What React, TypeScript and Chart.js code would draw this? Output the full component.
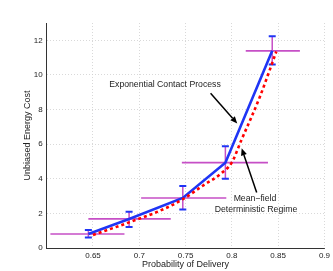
import React, { useEffect, useRef } from "react";
import { Chart, registerables } from "chart.js";

Chart.register(...registerables);

// Measured points (Exponential Contact Process)
const pointX = [0.645, 0.689, 0.747, 0.793, 0.8436];
const pointY = [0.81, 1.68, 2.89, 4.93, 11.39];
// vertical error bars
const errYLow = [0.6, 1.22, 2.23, 4.0, 10.6];
const errYHigh = [1.04, 2.1, 3.58, 5.88, 12.23];
// horizontal error bars
const errXLow = [0.604, 0.645, 0.702, 0.746, 0.815];
const errXHigh = [0.684, 0.734, 0.794, 0.839, 0.8735];

// Mean-field deterministic regime curve
const meanX = [0.65, 0.69, 0.72, 0.745, 0.77, 0.787, 0.8, 0.81, 0.83, 0.848];
const meanY = [0.75, 1.5, 2.1, 2.75, 3.65, 4.25, 4.95, 6.2, 8.7, 11.35];

const xTickLabels = ["", "0.65", "0.7", "0.75", "0.8", "0.85", "0.9"];
const yTickLabels = ["0", "2", "4", "6", "8", "10", "12"];

// annotations (data coordinates)
const annTexts = ["Exponential Contact Process", "Mean\u2212field", "Deterministic Regime"];
const annTextX = [0.7278, 0.825, 0.826];
const annTextY = [9.42, 2.83, 2.2];
const arrowFromX = [0.777, 0.8268];
const arrowFromY = [8.94, 3.2];
const arrowToX = [0.8058, 0.8106];
const arrowToY = [7.2, 5.76];

const FONT = '"Liberation Sans", Arial, Helvetica, sans-serif';

const annotationPlugin = {
  id: "annotations",
  afterDatasetsDraw(chart: any) {
    const ctx = chart.ctx;
    const xs = chart.scales.x;
    const ys = chart.scales.y;
    ctx.save();
    ctx.font = `8.7px ${FONT}`;
    ctx.fillStyle = "#222";
    ctx.textAlign = "center";
    ctx.textBaseline = "middle";
    annTexts.forEach((t, i) => {
      ctx.fillText(t, xs.getPixelForValue(annTextX[i]), ys.getPixelForValue(annTextY[i]));
    });
    ctx.strokeStyle = "#000";
    ctx.fillStyle = "#000";
    ctx.lineWidth = 1.5;
    for (let i = 0; i < arrowFromX.length; i++) {
      const x1 = xs.getPixelForValue(arrowFromX[i]);
      const y1 = ys.getPixelForValue(arrowFromY[i]);
      const x2 = xs.getPixelForValue(arrowToX[i]);
      const y2 = ys.getPixelForValue(arrowToY[i]);
      const ang = Math.atan2(y2 - y1, x2 - x1);
      const hl = 7;
      const hw = 3;
      const bx = x2 - hl * Math.cos(ang);
      const by = y2 - hl * Math.sin(ang);
      ctx.beginPath();
      ctx.moveTo(x1, y1);
      ctx.lineTo(bx, by);
      ctx.stroke();
      ctx.beginPath();
      ctx.moveTo(x2, y2);
      ctx.lineTo(bx + hw * Math.sin(ang), by - hw * Math.cos(ang));
      ctx.lineTo(bx - hw * Math.sin(ang), by + hw * Math.cos(ang));
      ctx.closePath();
      ctx.fill();
    }
    ctx.restore();
  },
};

export default function App() {
  const ref = useRef<HTMLCanvasElement | null>(null);
  useEffect(() => {
    document.body.style.margin = "0";
    const BLUE = "#1f35f5";
    const MAG = "#c64fc6";
    const datasets: any[] = [];
    datasets.push({
      data: pointX.map((x, i) => ({ x, y: pointY[i] })),
      showLine: true,
      borderColor: BLUE,
      borderWidth: 2.6,
      pointRadius: 0,
      order: 1,
    });
    datasets.push({
      data: meanX.map((x, i) => ({ x, y: meanY[i] })),
      showLine: true,
      borderColor: "#ff0000",
      borderWidth: 2.6,
      borderDash: [3, 3],
      cubicInterpolationMode: "monotone",
      pointRadius: 0,
      order: 0,
    });
    pointX.forEach((x, i) => {
      datasets.push({
        data: [
          { x: errXLow[i], y: pointY[i] },
          { x: errXHigh[i], y: pointY[i] },
        ],
        showLine: true,
        borderColor: MAG,
        borderWidth: 1.6,
        pointRadius: 0,
        order: 3,
      });
      datasets.push({
        data: [
          { x, y: errYLow[i] },
          { x, y: errYHigh[i] },
        ],
        showLine: true,
        borderColor: MAG,
        borderWidth: 1.5,
        pointStyle: "line",
        pointRadius: 3.5,
        pointBorderColor: BLUE,
        pointBorderWidth: 2,
        order: 2,
      });
    });
    const chart = new Chart(ref.current!, {
      type: "scatter",
      data: { datasets },
      plugins: [annotationPlugin],
      options: {
        animation: false,
        responsive: false,
        events: [],
        layout: { padding: { left: 0, right: 8, top: 23, bottom: 0 } },
        plugins: { legend: { display: false }, tooltip: { enabled: false } },
        scales: {
          x: {
            type: "linear",
            min: 0.6,
            max: 0.9,
            afterFit: (s: any) => {
              s.height = 23;
            },
            ticks: {
              stepSize: 0.05,
              padding: 3,
              color: "#222",
              font: { family: FONT, size: 8 },
              maxRotation: 0,
              autoSkip: false,
              callback: (_v: any, i: number) => xTickLabels[i],
            },
            grid: { color: (c: any) => (c.index === 0 ? "rgba(0,0,0,0)" : "#cfcfcf"), drawTicks: false, lineWidth: 0.8, borderDash: [1, 2] },
            border: { color: "#333", width: 1, dash: [1, 2] },
            title: {
              display: true,
              text: "Probability of Delivery",
              color: "#222",
              font: { family: FONT, size: 9 },
              padding: { top: 0, bottom: 1 },
            },
          },
          y: {
            type: "linear",
            min: 0,
            max: 13,
            afterFit: (s: any) => {
              s.width = 46.7;
            },
            ticks: {
              stepSize: 2,
              includeBounds: false,
              padding: 4,
              color: "#222",
              font: { family: FONT, size: 8 },
              callback: (_v: any, i: number) => yTickLabels[i],
            },
            grid: { color: (c: any) => (c.index === 0 ? "rgba(0,0,0,0)" : "#cfcfcf"), drawTicks: false, lineWidth: 0.8, borderDash: [1, 2] },
            border: { color: "#333", width: 1, dash: [1, 2] },
            title: {
              display: true,
              text: "Unbiased Energy Cost",
              color: "#222",
              font: { family: FONT, size: 9 },
              padding: { top: 22.5, bottom: 0 },
            },
          },
        },
      } as any,
    });
    return () => chart.destroy();
  }, []);
  return <canvas ref={ref} width={333} height={271} style={{ display: "block" }} />;
}
